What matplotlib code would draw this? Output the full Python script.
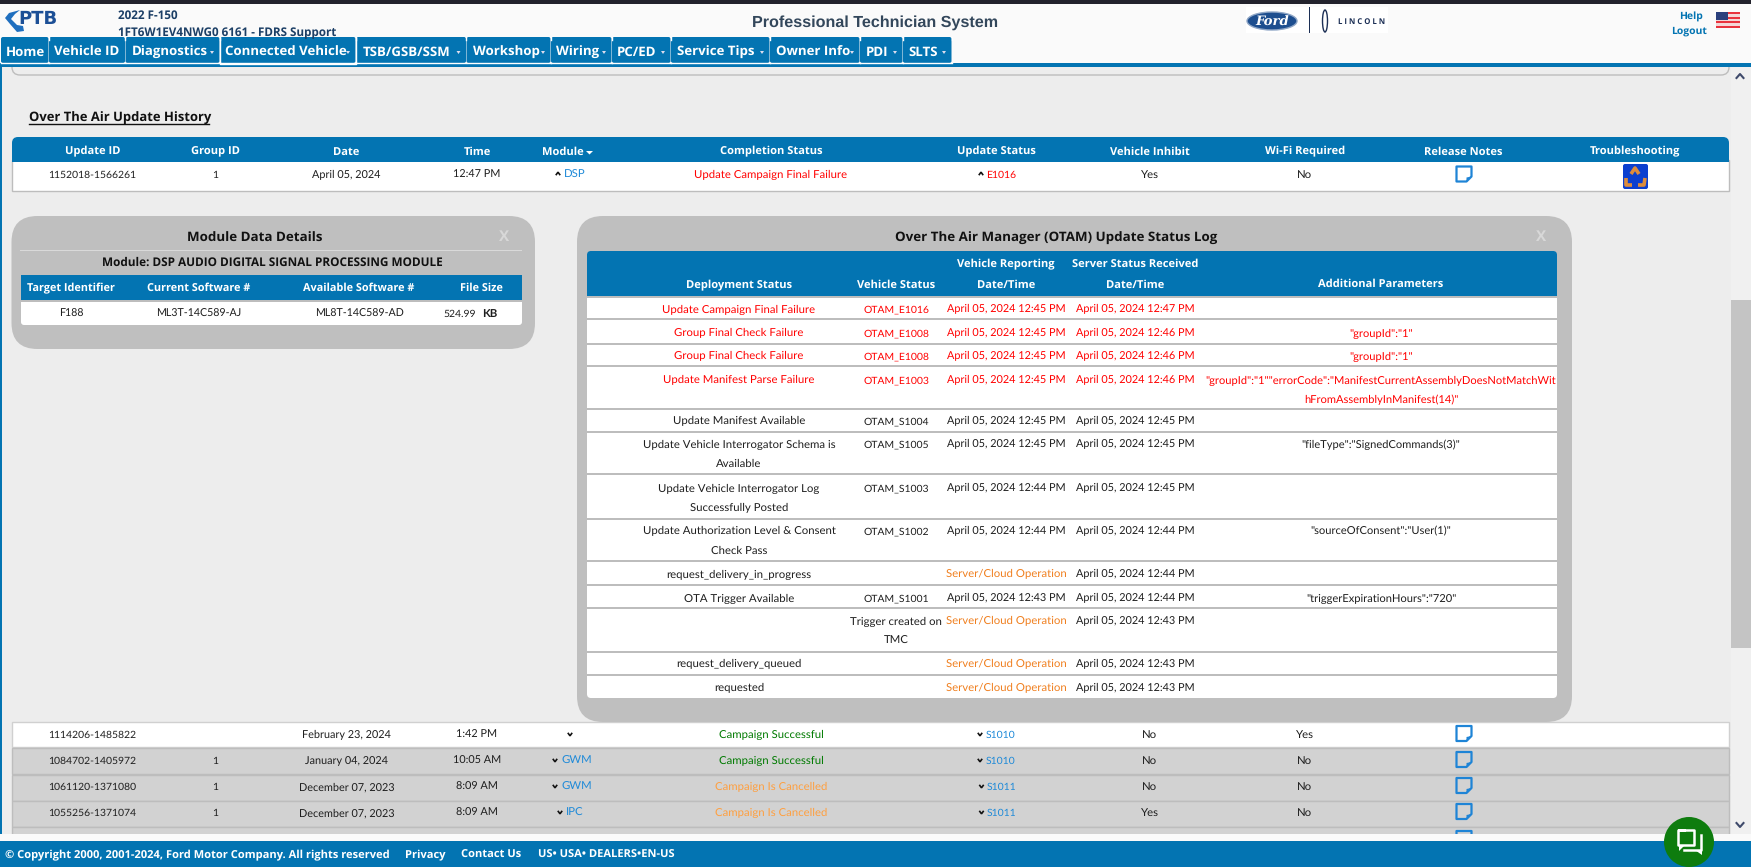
import matplotlib
matplotlib.use("Agg")
import matplotlib.pyplot as plt
from matplotlib.patches import Rectangle, FancyBboxPatch, Ellipse, Polygon, Circle

plt.rcParams["text.hinting"] = "no_hinting"

BODY = "Lato"
HEAD = "Open Sans"

BLUE = "#0374B2"
RED = "#FF0000"
ORANGE = "#F07F1E"
AMBER = "#FF9F3F"
GREEN = "#007A00"
LINK = "#1F8AD8"
DARK = "#1E1E1E"

# font sizes, numbers in the original are narrow so they get a smaller size
SZ_TEXT = 8.2
SZ_DATE = 7.8
SZ_CODE = 7.5
SZ_HEAD = 8.0

# nav bar
NAV_LABELS = ["Home", "Vehicle ID", "Diagnostics", "Connected Vehicle", "TSB/GSB/SSM", "Workshop",
              "Wiring", "PC/ED", "Service Tips", "Owner Info", "PDI", "SLTS"]
NAV_ARROW = [False, False, True, True, True, True, True, True, True, True, True, True]
NAV_EDGES = [1, 49, 125.5, 220, 356, 466.5, 551, 612, 671, 770, 860, 903, 952]
NAV_TEXT_X = [6, 54, 132, 225, 363, 473, 556, 617, 677, 776, 866, 908]

# history table
HIST_HEADERS = ["Update ID", "Group ID", "Date", "Time", "Module", "Completion Status", "Update Status",
                "Vehicle Inhibit", "Wi-Fi Required", "Release Notes", "Troubleshooting"]
HIST_X = [92.5, 215.5, 346.5, 477, 563, 771, 996, 1150, 1305, 1463, 1635]

HIST_ID = ["1114206-1485822", "1084702-1405972", "1061120-1371080", "1055256-1371074"]
HIST_GROUP = ["", "1", "1", "1"]
HIST_DATE = ["February 23, 2024", "January 04, 2024", "December 07, 2023", "December 07, 2023"]
HIST_TIME = ["1:42 PM", "10:05 AM", "8:09 AM", "8:09 AM"]
HIST_MODULE = ["", "GWM", "GWM", "IPC"]
HIST_COMPLETION = ["Campaign Successful", "Campaign Successful", "Campaign Is Cancelled", "Campaign Is Cancelled"]
HIST_STATUS = ["S1010", "S1010", "S1011", "S1011"]
HIST_INHIBIT = ["No", "No", "No", "Yes"]
HIST_WIFI = ["Yes", "No", "No", "No"]

# module details
MOD_HEADERS = ["Target Identifier", "Current Software #", "Available Software #", "File Size"]
MOD_VALUES = ["F188", "ML3T-14C589-AJ", "ML8T-14C589-AD"]
MOD_X = [71, 199, 359, 481]

# OTAM log
OT_DEPLOY = ["Update Campaign Final Failure", "Group Final Check Failure", "Group Final Check Failure",
             "Update Manifest Parse Failure", "Update Manifest Available",
             "Update Vehicle Interrogator Schema is\nAvailable", "Update Vehicle Interrogator Log\nSuccessfully Posted",
             "Update Authorization Level & Consent\nCheck Pass", "request_delivery_in_progress",
             "OTA Trigger Available", "", "request_delivery_queued", "requested"]
OT_STATUS = ["OTAM_E1016", "OTAM_E1008", "OTAM_E1008", "OTAM_E1003", "OTAM_S1004", "OTAM_S1005", "OTAM_S1003",
             "OTAM_S1002", "", "OTAM_S1001", "Trigger created on\nTMC", "", ""]
OT_VEHICLE = ["April 05, 2024 12:45 PM"] * 6 + ["April 05, 2024 12:44 PM"] * 2 + ["Server/Cloud Operation",
              "April 05, 2024 12:43 PM", "Server/Cloud Operation", "Server/Cloud Operation", "Server/Cloud Operation"]
OT_SERVER = ["April 05, 2024 12:47 PM", "April 05, 2024 12:46 PM", "April 05, 2024 12:46 PM", "April 05, 2024 12:46 PM",
             "April 05, 2024 12:45 PM", "April 05, 2024 12:45 PM", "April 05, 2024 12:45 PM", "April 05, 2024 12:44 PM",
             "April 05, 2024 12:44 PM", "April 05, 2024 12:44 PM", "April 05, 2024 12:43 PM", "April 05, 2024 12:43 PM",
             "April 05, 2024 12:43 PM"]
OT_PARAMS = ["", '"groupId":"1"', '"groupId":"1"',
             '"groupId":"1""errorCode":"ManifestCurrentAssemblyDoesNotMatchWit\nhFromAssemblyInManifest(14)"',
             "", '"fileType":"SignedCommands(3)"', "", '"sourceOfConsent":"User(1)"', "",
             '"triggerExpirationHours":"720"', "", "", ""]
OT_X = [739, 896, 1006, 1135, 1381]
OT_LINES = [319, 344, 366, 409, 432, 474, 519, 561, 585, 608, 652, 675]
OT_TEXT_Y = [308, 332, 355, 379, 420, 443, 487, 530, 573, 597, 620, 663, 687]
OT_RED_ROWS = 4

FOOTER = [("\u00a9 Copyright 2000, 2001-2024, Ford Motor Company. All rights reserved", 5), ("Privacy", 405),
          ("Contact Us", 461), ("US\u2022 USA\u2022 DEALERS\u2022EN-US", 538)]

fig = plt.figure(figsize=(17.51, 8.67), dpi=100, facecolor="#EDEDED")
ax = fig.add_axes([0, 0, 1, 1])
ax.set_xlim(0, 1751)
ax.set_ylim(867, 0)
ax.axis("off")


def rect(x0, y0, x1, y1, c, z=1, **kw):
    ax.add_patch(Rectangle((x0, y0), x1 - x0, y1 - y0, fc=c, ec=kw.pop("ec", "none"), zorder=z, **kw))


def rrect(x0, y0, x1, y1, r, c, z=1, ec="none", lw=1):
    ax.add_patch(FancyBboxPatch((x0, y0), x1 - x0, y1 - y0, boxstyle="round,pad=0,rounding_size=%s" % r,
                                fc=c, ec=ec, lw=lw, zorder=z))


def txt(x, y, s, c=DARK, size=SZ_TEXT, ha="center", weight="normal", fam=BODY, z=10, **kw):
    if fam == HEAD:
        y += 1
    return ax.text(x, y, s, color=c, fontsize=size, ha=ha, va="center_baseline", fontweight=weight, family=fam,
                   zorder=z, **kw)


def caret(x, y, up=True):
    s = 2.2
    if up:
        pts = [(x - s, y + 1.2), (x, y - 1.8), (x + s, y + 1.2)]
    else:
        pts = [(x - s, y - 1.2), (x, y + 1.8), (x + s, y - 1.2)]
    ax.add_patch(Polygon(pts, closed=False, fill=False, ec="#111111", lw=1.2, zorder=10))


def doc_icon(cx, cy, z=10):
    w, h = 7.5, 7.5
    pts = [(cx - w, cy - h), (cx + w, cy - h), (cx + w, cy + h - 5), (cx + w - 5, cy + h), (cx - w, cy + h)]
    ax.add_patch(Polygon(pts, closed=True, fc="none", ec="#1E84D6", lw=1.6, joinstyle="round", zorder=z))
    ax.add_patch(Polygon([(cx + w - 5, cy + h), (cx + w - 5, cy + h - 4), (cx + w, cy + h - 5)], closed=True,
                         fc="#1E84D6", ec="none", zorder=z))


# page chrome
rect(0, 0, 1751, 4, "#22222C", 5)
rect(0, 4, 1751, 63, "#FAFAFA", 1)
rect(0, 63, 1751, 67, BLUE, 3)
rect(0, 67, 2, 841, BLUE, 3)
rect(0, 834, 1751, 841, "#FAFAFA", 6)
rect(0, 841, 1751, 867, BLUE, 6)

# header
ax.add_patch(Polygon([(20, 10), (9, 13), (5, 18), (10, 24), (17, 32), (24, 31), (23, 26), (17, 25), (11, 19), (15, 14)],
                     closed=True, fc="#1F6FBF", ec="none", zorder=4))
txt(38, 17, "PTB", "#1C4F96", 13, weight="bold", fam="DejaVu Sans")
txt(118, 13.5, "2022 F-150", "#1C3F66", 8.4, ha="left", weight="bold", fam=HEAD)
txt(118, 30.5, "1FT6W1EV4NWG0 6161 - FDRS Support", "#1C3F66", 8.4, ha="left", weight="bold", fam=HEAD)
txt(875, 21, "Professional Technician System", "#33475B", 11.6, weight="bold", fam="Liberation Sans")

rect(1246, 7, 1388, 33, "white", 2)
ax.add_patch(Ellipse((1272, 21), 50, 18, fc="#1D4E8F", ec="#8FA6C6", lw=1, zorder=4))
txt(1272, 21, "Ford", "white", 9.5, style="italic", weight="bold", fam="DejaVu Serif")
rect(1308.5, 7, 1309.5, 33, "#1C2F55", 4)
ax.add_patch(Ellipse((1325, 21), 5, 22, fc="none", ec="#1C2F55", lw=1, zorder=4))
rect(1324.6, 9, 1325.4, 33, "#1C2F55", 4)
txt(1362, 20, "L I N C O L N", "#1C2F55", 5.6, weight="bold", fam="Open Sans")
txt(1691, 14.5, "Help", BLUE, 7.5, weight="bold", fam=HEAD)
txt(1689, 28.5, "Logout", BLUE, 7.5, weight="bold", fam=HEAD)
for i in range(7):
    rect(1716, 12 + i * 16 / 7, 1740, 12 + (i + 1) * 16 / 7, "#E9323C" if i % 2 == 0 else "#F4D6D6", 4)
rect(1716, 12, 1728, 20, "#2A3F7C", 5)

# nav tabs
for i, lab in enumerate(NAV_LABELS):
    x0, x1 = NAV_EDGES[i], NAV_EDGES[i + 1]
    rrect(x0, 37, x1 - 0.5, 63, 2, BLUE, 4)
    ax.plot([x0, x1 - 0.5], [63, 63], color="white", lw=1, zorder=5)
    ax.plot([x1 - 0.3, x1 - 0.3], [37, 40], color="white", lw=1, zorder=5)
    txt(NAV_TEXT_X[i], 50, lab, "white", 9.5, ha="left", weight="bold", fam=HEAD)
    if NAV_ARROW[i]:
        ax.add_patch(Polygon([(x1 - 10, 51), (x1 - 6, 51), (x1 - 8, 54)], closed=True, fc="#DDDDEE", ec="none", zorder=10))
ax.plot([220, 220, 355.5, 355.5], [38, 63.5, 63.5, 38], color="white", lw=1, zorder=6)

# scrollbar
rect(1731, 67, 1751, 834, "#F0F0F0", 3)
rect(1731, 300, 1751, 648, "#C4C4C4", 4)
ax.plot([1736.5, 1740, 1743.5], [78, 74, 78], color="#3F4A6B", lw=1.5, zorder=5)
ax.plot([1736.5, 1740, 1743.5], [823, 827, 823], color="#3F4A6B", lw=1.5, zorder=7)

# leftover panel from above
rrect(12, 50, 1729, 75, 8, "#EDEDED", 0.5, ec="#BDBDBD", lw=1)

txt(29, 116, "Over The Air Update History", "#111111", 9.4, ha="left", weight="bold", fam=HEAD)
ax.plot([29, 209], [124, 124], color="#111111", lw=1, zorder=10)

# top history row
rect(12, 160, 1729, 191, "white", 2, ec="#BDBDBD", lw=1)
rrect(12, 137, 1729, 162, 6, BLUE, 3)
rect(12, 150, 1729, 162, BLUE, 3)
for x, lab in zip(HIST_X, HIST_HEADERS):
    txt(x, 149.5, lab, "white", SZ_HEAD, weight="bold", fam=HEAD)
ax.add_patch(Polygon([(586, 151), (593, 151), (589.5, 154.5)], closed=True, fc="white", ec="none", zorder=10))
txt(HIST_X[0], 174, "1152018-1566261", size=SZ_CODE)
txt(HIST_X[1], 174, "1", size=SZ_CODE)
txt(HIST_X[2], 174, "April 05, 2024", size=SZ_DATE)
txt(HIST_X[3], 174, "12:47 PM", size=SZ_DATE)
caret(558, 174)
txt(564, 174, "DSP", LINK, ha="left")
txt(HIST_X[5], 174, "Update Campaign Final Failure", RED)
caret(981, 174)
txt(986, 174, "E1016", RED, ha="left", size=SZ_CODE)
txt(HIST_X[7], 174, "Yes")
txt(HIST_X[8], 174, "No")
doc_icon(1464, 174)
rrect(1623, 164, 1648, 189, 2, "#0B3FCF", 4)
for xs, ys in (([1631, 1635, 1639], [174, 168, 174]), ([1626, 1626, 1632], [178, 185, 185]), ([1638, 1644, 1645], [185, 185, 178])):
    ax.plot(xs, ys, color="#DD8C3C", lw=2.6, solid_capstyle="butt", zorder=5)

# lower history rows
ROW_TOPS = [722, 748, 775, 801, 827]
ROW_Y = [734, 760, 786, 812]
rect(12, 722, 1729, 747, "white", 2, ec="#D0D0D0", lw=1)
for top in ROW_TOPS[1:]:
    rect(12, top, 1729, top + 25.5, "#D2D2D2", 2, ec="#BDBDBD", lw=1)
MODULE_TEXT_X = [None, 561, 561, 566]
STATUS_TEXT_X = [985.5, 985.5, 987, 987]
for i in range(4):
    y = ROW_Y[i]
    txt(HIST_X[0], y, HIST_ID[i], size=SZ_CODE)
    txt(HIST_X[1], y, HIST_GROUP[i], size=SZ_CODE)
    txt(HIST_X[2], y, HIST_DATE[i], size=SZ_DATE)
    txt(HIST_X[3], y, HIST_TIME[i], size=SZ_DATE)
    if HIST_MODULE[i]:
        caret(MODULE_TEXT_X[i] - 6, y, False)
        txt(MODULE_TEXT_X[i], y, HIST_MODULE[i], LINK, ha="left")
    else:
        caret(570, y, False)
    txt(HIST_X[5], y, HIST_COMPLETION[i], GREEN if "Success" in HIST_COMPLETION[i] else AMBER)
    caret(STATUS_TEXT_X[i] - 5.5, y, False)
    txt(STATUS_TEXT_X[i], y, HIST_STATUS[i], LINK, ha="left", size=SZ_CODE)
    txt(HIST_X[7], y, HIST_INHIBIT[i])
    txt(HIST_X[8], y, HIST_WIFI[i])
    doc_icon(1464, y - 0.5)
doc_icon(1464, 838.5, z=5)

# module data panel
rrect(11.5, 216, 535, 349, 26, "#BFBFBF", 2)
txt(255, 236, "Module Data Details", "#111111", 9.6, weight="bold", fam=HEAD)
txt(504, 234, "X", "#D8D8D8", 11, weight="bold", fam=HEAD)
rect(20, 250, 522, 251, "#D9D9D9", 3)
txt(272, 260, "Module: DSP AUDIO DIGITAL SIGNAL PROCESSING MODULE", "#111111", 8.5, weight="bold", fam=HEAD)
rrect(21, 296, 522, 325, 3, "white", 3)
rect(21, 275, 522, 300, BLUE, 3)
rect(21, 300, 522, 301.5, "#BDBDBD", 4)
for x, lab in zip(MOD_X, MOD_HEADERS):
    txt(x, 286, lab, "white", 7.8, weight="bold", fam=HEAD)
for x, val in zip(MOD_X, MOD_VALUES):
    txt(x, 313, val, size=7.7)
txt(443, 313, "524.99", ha="left", size=SZ_CODE)
txt(482, 313, "KB", weight="bold", ha="left")

# OTAM panel
rrect(577, 216, 1572, 722, 26, "#BFBFBF", 2)
txt(1056, 236, "Over The Air Manager (OTAM) Update Status Log", "#111111", 9.6, weight="bold", fam=HEAD)
txt(1541, 234, "X", "#D8D8D8", 11, weight="bold", fam=HEAD)
rrect(587, 251, 1557, 296, 4, BLUE, 3)
rect(587, 262, 1557, 296, BLUE, 3)
rrect(587, 290, 1557, 698, 4, "white", 2)
rect(587, 296, 1557, 297.5, "#BDBDBD", 3)
for y in OT_LINES:
    rect(587, y - 0.7, 1557, y + 0.7, "#BDBDBD", 3)
txt(1006, 262, "Vehicle Reporting", "white", SZ_HEAD, weight="bold", fam=HEAD)
txt(1135, 262, "Server Status Received", "white", SZ_HEAD, weight="bold", fam=HEAD)
txt(OT_X[0], 283, "Deployment Status", "white", SZ_HEAD, weight="bold", fam=HEAD)
txt(OT_X[1], 283, "Vehicle Status", "white", SZ_HEAD, weight="bold", fam=HEAD)
txt(OT_X[2], 283, "Date/Time", "white", SZ_HEAD, weight="bold", fam=HEAD)
txt(OT_X[3], 283, "Date/Time", "white", SZ_HEAD, weight="bold", fam=HEAD)
txt(OT_X[4], 282, "Additional Parameters", "white", SZ_HEAD, weight="bold", fam=HEAD)


def ot_cell(x, y, s, c, size):
    # multi-line cells hang from the first line, row pitch is wider than the font default
    for n, part in enumerate(s.split("\n")):
        txt(x, y + 0.5 + n * 19.5, part, c, size)


for i in range(13):
    y = OT_TEXT_Y[i]
    c = RED if i < OT_RED_ROWS else DARK
    ot_cell(OT_X[0], y, OT_DEPLOY[i], c, SZ_TEXT)
    ot_cell(OT_X[1], y, OT_STATUS[i], c, SZ_CODE if OT_STATUS[i].startswith("OTAM") else SZ_TEXT)
    if "Server" in OT_VEHICLE[i]:
        ot_cell(OT_X[2], y, OT_VEHICLE[i], ORANGE, SZ_TEXT)
    else:
        ot_cell(OT_X[2], y, OT_VEHICLE[i], c, SZ_DATE)
    ot_cell(OT_X[3], y, OT_SERVER[i], c, SZ_DATE)
    ot_cell(OT_X[4], y, OT_PARAMS[i], c, 8.05)

# footer
for s, x in FOOTER:
    txt(x, 853, s, "white", 8.0, ha="left", weight="bold", fam=HEAD, z=8)

# chat bubble
ax.add_patch(Circle((1689, 842), 25, fc="#0E7C0E", ec="none", zorder=8))
ax.plot([1684, 1677.5, 1677.5, 1694, 1694, 1684, 1679, 1680], [830, 830, 845, 845, 830, 830, 830, 830], color="white", lw=1.8, zorder=9)
ax.add_patch(Polygon([(1679, 845), (1685, 845), (1679, 851)], closed=True, fc="white", ec="none", zorder=9))
ax.plot([1701, 1701, 1684], [835, 850, 850], color="white", lw=1.8, zorder=9)
ax.add_patch(Polygon([(1695, 850), (1702, 850), (1702, 855)], closed=True, fc="white", ec="none", zorder=9))

fig.savefig("out.png", dpi=100, facecolor=fig.get_facecolor())
